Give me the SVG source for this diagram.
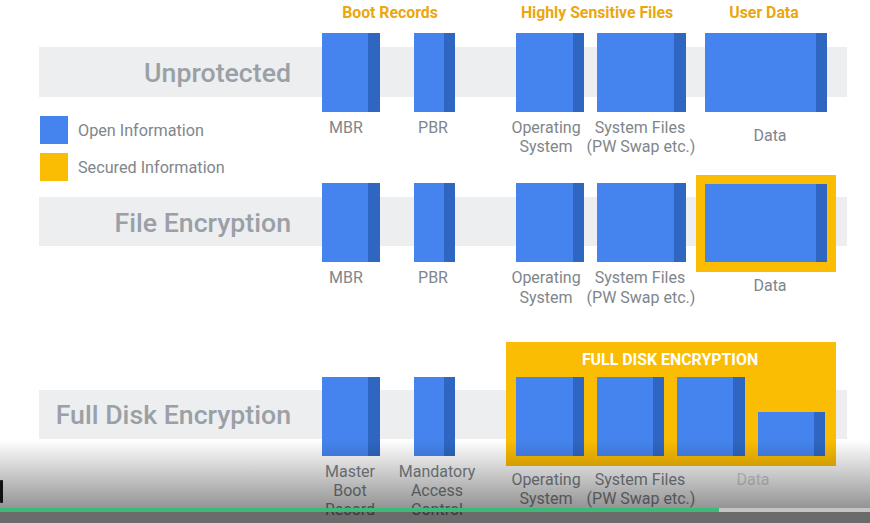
<svg xmlns="http://www.w3.org/2000/svg" width="870" height="523" viewBox="0 0 870 523">
<defs>
<style>
.band{fill:#eceef0}
.blk{fill:#4584ee}
.drk{fill:#2e66c2}
.sec{fill:#fbbc04}
.row{font-family:Roboto,"Liberation Sans",sans-serif;font-weight:500;font-size:26.7px;fill:#9aa0a6;text-anchor:end}
.hdr{font-family:Roboto,"Liberation Sans",sans-serif;font-weight:700;font-size:15.8px;fill:#eaa70f;text-anchor:middle}
.lbl{font-family:Roboto,"Liberation Sans",sans-serif;font-size:16px;fill:#80868b;text-anchor:middle}
.leg{font-family:Roboto,"Liberation Sans",sans-serif;font-size:16.2px;fill:#80868b}
.fde{font-family:Roboto,"Liberation Sans",sans-serif;font-weight:700;font-size:15.9px;fill:#ffffff;text-anchor:middle}
</style>
<linearGradient id="shade" x1="0" y1="0" x2="0" y2="1">
<stop offset="0" stop-color="#000" stop-opacity="0"/>
<stop offset="1" stop-color="#000" stop-opacity="0.42"/>
</linearGradient>
</defs>
<rect width="870" height="523" fill="#ffffff"/>
<g id="bands">
<rect class="band" x="39" y="47" width="808" height="50"/>
<rect class="band" x="39" y="197" width="808" height="49"/>
<rect class="band" x="39" y="390" width="808" height="49"/>
</g>
<g id="headers">
<text class="hdr" x="390" y="18">Boot Records</text>
<text class="hdr" x="597" y="18">Highly Sensitive Files</text>
<text class="hdr" x="764" y="18">User Data</text>
</g>
<g id="row-labels">
<text class="row" x="291" y="82">Unprotected</text>
<text class="row" x="291" y="232">File Encryption</text>
<text class="row" x="291" y="424">Full Disk Encryption</text>
</g>
<g id="legend">
<rect class="blk" x="40" y="116" width="28" height="28"/>
<text class="leg" x="78" y="136">Open Information</text>
<rect class="sec" x="40" y="153" width="28" height="28"/>
<text class="leg" x="78" y="173">Secured Information</text>
</g>
<g id="row1">
<g id="r1-mbr"><rect class="blk" x="322" y="33" width="58" height="79"/><rect class="drk" x="368" y="33" width="12" height="79"/><text class="lbl" x="346" y="133">MBR</text></g>
<g id="r1-pbr"><rect class="blk" x="414" y="33" width="41" height="79"/><rect class="drk" x="444" y="33" width="11" height="79"/><text class="lbl" x="433" y="133">PBR</text></g>
<g id="r1-os"><rect class="blk" x="516" y="33" width="68" height="79"/><rect class="drk" x="573" y="33" width="11" height="79"/><text class="lbl" x="546" y="133">Operating</text><text class="lbl" x="546" y="152">System</text></g>
<g id="r1-sys"><rect class="blk" x="597" y="33" width="89" height="79"/><rect class="drk" x="674" y="33" width="12" height="79"/><text class="lbl" x="640" y="133">System Files</text><text class="lbl" x="641" y="152">(PW Swap etc.)</text></g>
<g id="r1-data"><rect class="blk" x="705" y="33" width="122" height="79"/><rect class="drk" x="816" y="33" width="11" height="79"/><text class="lbl" x="770" y="141">Data</text></g>
</g>
<g id="row2">
<g id="r2-mbr"><rect class="blk" x="322" y="183" width="58" height="79"/><rect class="drk" x="368" y="183" width="12" height="79"/><text class="lbl" x="346" y="283">MBR</text></g>
<g id="r2-pbr"><rect class="blk" x="414" y="183" width="41" height="79"/><rect class="drk" x="444" y="183" width="11" height="79"/><text class="lbl" x="433" y="283">PBR</text></g>
<g id="r2-os"><rect class="blk" x="516" y="183" width="68" height="79"/><rect class="drk" x="573" y="183" width="11" height="79"/><text class="lbl" x="546" y="283">Operating</text><text class="lbl" x="546" y="303">System</text></g>
<g id="r2-sys"><rect class="blk" x="597" y="183" width="89" height="79"/><rect class="drk" x="674" y="183" width="12" height="79"/><text class="lbl" x="640" y="283">System Files</text><text class="lbl" x="641" y="303">(PW Swap etc.)</text></g>
<g id="r2-data"><rect class="sec" x="696" y="175" width="140" height="97"/><rect class="blk" x="705" y="184" width="122" height="78"/><rect class="drk" x="816" y="184" width="11" height="78"/><text class="lbl" x="770" y="291">Data</text></g>
</g>
<g id="row3">
<g id="r3-mbr"><rect class="blk" x="322" y="377" width="58" height="79"/><rect class="drk" x="368" y="377" width="12" height="79"/><text class="lbl" x="350" y="477">Master</text><text class="lbl" x="350" y="496">Boot</text><text class="lbl" x="350" y="515">Record</text></g>
<g id="r3-mac"><rect class="blk" x="414" y="377" width="41" height="79"/><rect class="drk" x="444" y="377" width="11" height="79"/><text class="lbl" x="437" y="477">Mandatory</text><text class="lbl" x="437" y="496">Access</text><text class="lbl" x="437" y="515">Control</text></g>
<g id="r3-fde">
<rect class="sec" x="506" y="342" width="330" height="124"/>
<text class="fde" x="670" y="365">FULL DISK ENCRYPTION</text>
<rect class="blk" x="516" y="377" width="68" height="79"/><rect class="drk" x="573" y="377" width="11" height="79"/>
<rect class="blk" x="597" y="377" width="67" height="79"/><rect class="drk" x="653" y="377" width="11" height="79"/>
<rect class="blk" x="677" y="377" width="68" height="79"/><rect class="drk" x="733" y="377" width="12" height="79"/>
<rect class="blk" x="758" y="412" width="67" height="44"/><rect class="drk" x="814" y="412" width="11" height="44"/>
</g>
<text class="lbl" x="546" y="485">Operating</text><text class="lbl" x="546" y="504">System</text>
<text class="lbl" x="640" y="485">System Files</text><text class="lbl" x="641" y="504">(PW Swap etc.)</text>
<text class="lbl" x="753" y="485" style="fill:#d2d5d8">Data</text>
</g>
<g id="player-overlay">
<rect x="0" y="440" width="870" height="68" fill="url(#shade)"/>
<rect x="0" y="508" width="870" height="15" fill="#000" fill-opacity="0.58"/>
<rect x="0" y="508" width="870" height="4" fill="#c4c4c4"/>
<rect x="0" y="508" width="719" height="4" fill="#3dba7a"/>
<rect x="0" y="480" width="3" height="23" rx="1" fill="#111"/>
</g>
</svg>
